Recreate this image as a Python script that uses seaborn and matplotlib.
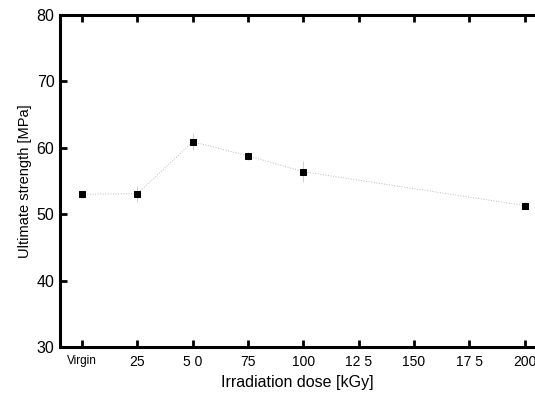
import matplotlib
matplotlib.use("Agg")
import matplotlib.pyplot as plt
import seaborn as sns
import pandas as pd
import numpy as np

dose = [0, 25, 50, 75, 100, 200]
strength = [53.0, 53.1, 60.9, 58.8, 56.4, 51.3]
err = [0.6, 1.2, 1.3, 0.6, 1.6, 0.5]
tick_pos = [0, 25, 50, 75, 100, 125, 150, 175, 200]
tick_labels = ["Virgin", "25", "5 0", "75", "100", "12 5", "150", "17 5", "200"]
y_ticks = [30, 40, 50, 60, 70, 80]

sns.set_style("ticks")
plt.rcParams["font.family"] = ["Liberation Sans", "DejaVu Sans"]
plt.rcParams["text.color"] = "black"
plt.rcParams["axes.labelcolor"] = "black"
plt.rcParams["xtick.color"] = "black"
plt.rcParams["ytick.color"] = "black"

df = pd.DataFrame({"dose": dose, "strength": strength})

fig = plt.figure(figsize=(5.35, 3.99), dpi=100)
ax = fig.add_axes([60 / 535, 52 / 399, 475 / 535, 332 / 399])

ax.errorbar(dose, strength, yerr=err, fmt="none", ecolor="#c8c8c8", elinewidth=0.6, capsize=0)
sns.lineplot(data=df, x="dose", y="strength", ax=ax, color="#bbbbbb", linewidth=0.7,
             linestyle=":", marker="s", markersize=5, markerfacecolor="black",
             markeredgecolor="black")

ax.set_xlim(-10, 204.7)
ax.set_ylim(30, 80)
ax.set_xticks(tick_pos)
ax.set_xticklabels(tick_labels)
ax.set_yticks(y_ticks)
for lbl in ax.get_xticklabels():
    lbl.set_fontsize(10)
ax.get_xticklabels()[0].set_fontsize(8.5)
ax.tick_params(axis="y", labelsize=11.5, direction="in", length=5, width=2, pad=4)
ax.tick_params(axis="x", direction="in", length=5, width=2, pad=6, top=True)
ax.set_xlabel("Irradiation dose [kGy]", fontsize=11.5, labelpad=4)
ax.set_ylabel("Ultimate strength [MPa]", fontsize=10.5, labelpad=3)

for s in ["left", "bottom", "top"]:
    ax.spines[s].set_linewidth(2.2)
    ax.spines[s].set_color("black")
ax.spines["right"].set_visible(False)

fig.savefig("out.png", dpi=100)
